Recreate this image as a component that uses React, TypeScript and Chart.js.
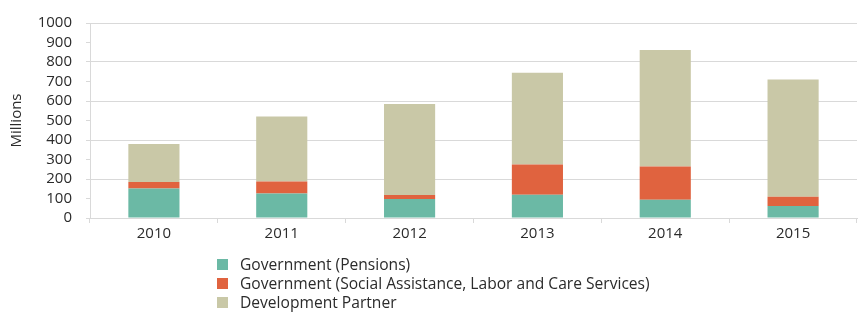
import React, { useEffect, useRef } from "react";
import { Chart, registerables } from "chart.js";

Chart.register(...registerables);

const years = ["2010", "2011", "2012", "2013", "2014", "2015"];
const pensions = [151, 126, 98, 119, 93, 61];
const socialAssistance = [33, 61, 20, 156, 171, 48];
const developmentPartner = [196, 334, 466, 470, 597, 601];

const seriesNames = [
  "Government (Pensions)",
  "Government (Social Assistance, Labor and Care Services)",
  "Development Partner",
];
const seriesColors = ["#6bb9a5", "#e0633f", "#c9c8a7"];

const FONT = "'Open Sans', sans-serif";
const TEXT = "#2b2b2b";
const GRID = "#d9d9d9";

export default function App() {
  const ref = useRef<HTMLCanvasElement | null>(null);

  useEffect(() => {
    const prevMargin = document.body.style.margin;
    document.body.style.margin = "0";
    if (!ref.current) return;
    const chart = new Chart(ref.current, {
      type: "bar",
      data: {
        labels: years,
        datasets: [pensions, socialAssistance, developmentPartner].map((d, i) => ({
          label: seriesNames[i],
          data: d,
          backgroundColor: seriesColors[i],
          borderWidth: 0,
          barPercentage: 0.4,
          categoryPercentage: 1,
        })),
      },
      options: {
        responsive: false,
        animation: false,
        layout: { padding: { left: 0, right: 1, top: 17, bottom: 0 } },
        plugins: {
          legend: { display: false },
          tooltip: { enabled: false },
        },
        scales: {
          x: {
            stacked: true,
            offset: true,
            border: { display: true, color: GRID, width: 1 },
            grid: {
              offset: true,
              drawOnChartArea: false,
              drawTicks: true,
              tickLength: 5,
              tickColor: GRID,
              color: GRID,
            },
            ticks: {
              color: TEXT,
              font: { family: FONT, size: 15 },
              padding: 2,
              maxRotation: 0,
            },
            afterFit: (scale: any) => {
              scale.height = 312 - 218;
            },
          },
          y: {
            stacked: true,
            min: 0,
            max: 1000,
            border: { display: true, color: GRID, width: 1 },
            grid: {
              drawTicks: true,
              tickLength: 4,
              tickColor: GRID,
              color: (ctx: any) => {
                const v = ctx.tick ? ctx.tick.value : ctx.index * 100;
                return v % 200 === 0 && v !== 0 ? GRID : "rgba(255,255,255,0)";
              },
            },
            ticks: {
              stepSize: 100,
              autoSkip: false,
              maxTicksLimit: 20,
              color: TEXT,
              font: { family: FONT, size: 15 },
              padding: 14,
              callback: (v: any) => String(v),
            },
            title: {
              display: true,
              text: "Millions",
              color: TEXT,
              font: { family: FONT, size: 15 },
              padding: { top: 8, bottom: 0 },
            },
            afterFit: (scale: any) => {
              scale.width = 90;
            },
          },
        },
      },
    });
    return () => {
      chart.destroy();
      document.body.style.margin = prevMargin;
    };
  }, []);

  return (
    <div style={{ position: "fixed", left: 0, top: 0, width: 858, height: 312, background: "#fff" }}>
      <canvas ref={ref} width={858} height={312} style={{ display: "block" }} />
      <div
        style={{
          position: "absolute",
          left: 217,
          top: 255,
          fontFamily: FONT,
          fontSize: 15.6,
          color: TEXT,
          lineHeight: "19px",
        }}
      >
        {seriesNames.map((name, i) => (
          <div key={name} style={{ display: "flex", alignItems: "center", whiteSpace: "nowrap" }}>
            <span
              style={{
                display: "inline-block",
                width: 11,
                height: 11,
                background: seriesColors[i],
                marginRight: 12,
              }}
            />
            <span>{name}</span>
          </div>
        ))}
      </div>
    </div>
  );
}
